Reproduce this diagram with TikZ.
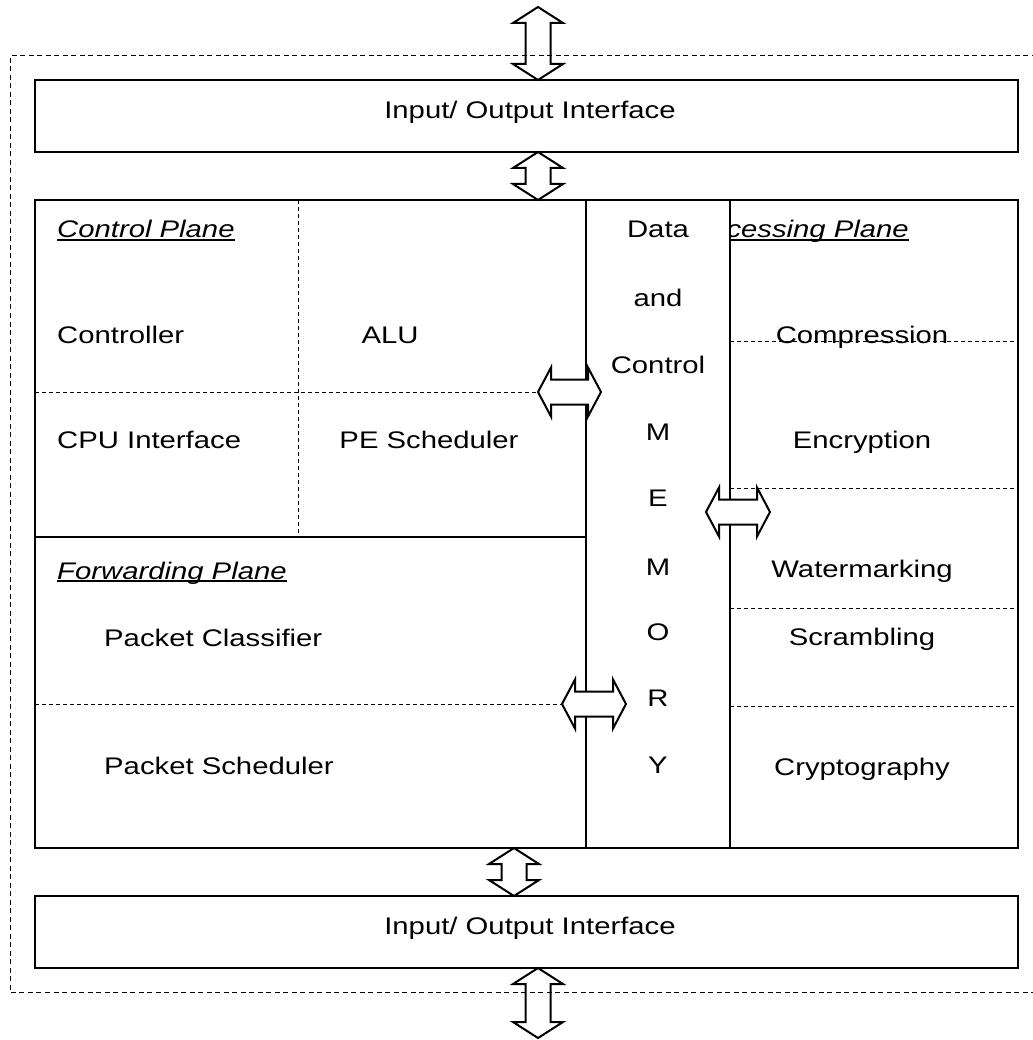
\documentclass[tikz,border=0pt]{standalone}
\usepackage{fontspec}
\usepackage{graphicx}
\setmainfont{Liberation Sans}
\usetikzlibrary{calc}

% labels are set slightly wide
\newcommand\wt[1]{\scalebox{1.22}[1]{#1}}
% underlined italic plane title
\newcommand\planetitle[1]{\setbox0\hbox{\wt{\itshape #1}}\rlap{\rule[-3pt]{\wd0}{2pt}}\box0}

% vertical double arrow: name, x, top tip, bottom tip
\newcommand\vdarrow[5][white]{%
  \draw[dblarrow, fill=#1] (#3,#4) -- (#3+25,#4+16) -- (#3+12.5,#4+16) -- (#3+12.5,#5-16)
    -- (#3+25,#5-16) -- (#3,#5) -- (#3-25,#5-16) -- (#3-12.5,#5-16)
    -- (#3-12.5,#4+16) -- (#3-25,#4+16) -- cycle;
  \coordinate (#2) at (#3,{(#4+#5)/2});}
% horizontal double arrow: name, y, left tip, right tip
\newcommand\hdarrow[4]{%
  \draw[dblarrow] (#3,#2) -- (#3+13,#2-24.5) -- (#3+13,#2-12.5) -- (#4-13,#2-12.5)
    -- (#4-13,#2-24.5) -- (#4,#2) -- (#4-13,#2+24.5) -- (#4-13,#2+12.5)
    -- (#3+13,#2+12.5) -- (#3+13,#2+24.5) -- cycle;
  \coordinate (#1) at ({(#3+#4)/2},#2);}

\tikzset{
  box/.style={draw, line width=2pt, fill=white},
  divider/.style={line width=1pt, dash pattern=on 4pt off 3pt},
  frame/.style={line width=1pt, dash pattern=on 5pt off 3.5pt},
  dblarrow/.style={draw, line width=2pt, fill=white, line join=miter},
  lbl/.style={inner sep=0pt, font=\fontsize{24}{28}\selectfont},
}

\begin{document}
\begin{tikzpicture}[x=1pt, y=-1pt]
\useasboundingbox (0,0) rectangle (1032,1040);

% input / output interfaces
\draw[box] (35,80) rectangle (1018,152);
\node[lbl] (ioTop) at (530,112) {\wt{Input/ Output Interface}};
\draw[box] (35,896) rectangle (1018,968);
\node[lbl] (ioBot) at (530,928) {\wt{Input/ Output Interface}};

% main processor block
\draw[box] (35,200) rectangle (1018,848);
\draw[line width=2pt] (35,537) -- (586,537);

% control plane grid
\draw[divider] (298,200) -- (298,537);
\draw[divider] (35,392) -- (586,392);
% forwarding plane divider
\draw[divider] (35,704) -- (586,704);
% processing plane dividers
\draw[divider] (730,341) -- (1018,341);
\draw[divider] (730,488) -- (1018,488);
\draw[divider] (730,608) -- (1018,608);
\draw[divider] (730,706) -- (1018,706);

% control plane labels
\node[lbl, anchor=base west] (cp) at (57,238) {\planetitle{Control Plane}};
\node[lbl, anchor=base west] (ctrl) at (57,343) {\wt{Controller}};
\node[lbl, anchor=base] (alu) at (390,343) {\wt{ALU}};
\node[lbl, anchor=base west] (cpu) at (57,448) {\wt{CPU Interface}};
\node[lbl, anchor=base] (pes) at (429,448) {\wt{PE Scheduler}};

% forwarding plane labels
\node[lbl, anchor=base west] (fp) at (57,579) {\planetitle{Forwarding Plane}};
\node[lbl, anchor=base west] (pc) at (104,646) {\wt{Packet Classifier}};
\node[lbl, anchor=base west] (ps) at (104,774) {\wt{Packet Scheduler}};

% processing plane labels (title runs in from under the memory column)
\node[lbl, anchor=base east] (pp) at (909,238) {\planetitle{cessing Plane}};
\node[lbl, anchor=base] (comp) at (862,343) {\wt{Compression}};
\node[lbl, anchor=base] (enc) at (862,448) {\wt{Encryption}};
\node[lbl, anchor=base] (wm) at (862,577) {\wt{Watermarking}};
\node[lbl, anchor=base] (scr) at (862,645) {\wt{Scrambling}};
\node[lbl, anchor=base] (cry) at (862,775) {\wt{Cryptography}};

% data and control memory column
\draw[box] (586,200) rectangle (730,848);
\foreach \t/\y [count=\i] in {Data/238, and/306, Control/373, M/440, E/506, M/575, O/640, R/706, Y/773}
  \node[lbl, anchor=base] (mem\i) at (658,\y) {\wt{\t}};

% data paths
\vdarrow[none]{aTop}{538}{7}{80}
\vdarrow{aIn}{538}{152}{200}
\vdarrow{aOut}{514}{848}{896}
\vdarrow[none]{aBot}{538}{968}{1038}
\hdarrow{aCtrl}{392}{538}{601}
\hdarrow{aProc}{512}{706}{770}
\hdarrow{aFwd}{704}{562}{626}

% outer dashed frame
\draw[frame] (1045,56) -- (10,56) -- (10,992) -- (1045,992);
\end{tikzpicture}
\end{document}
